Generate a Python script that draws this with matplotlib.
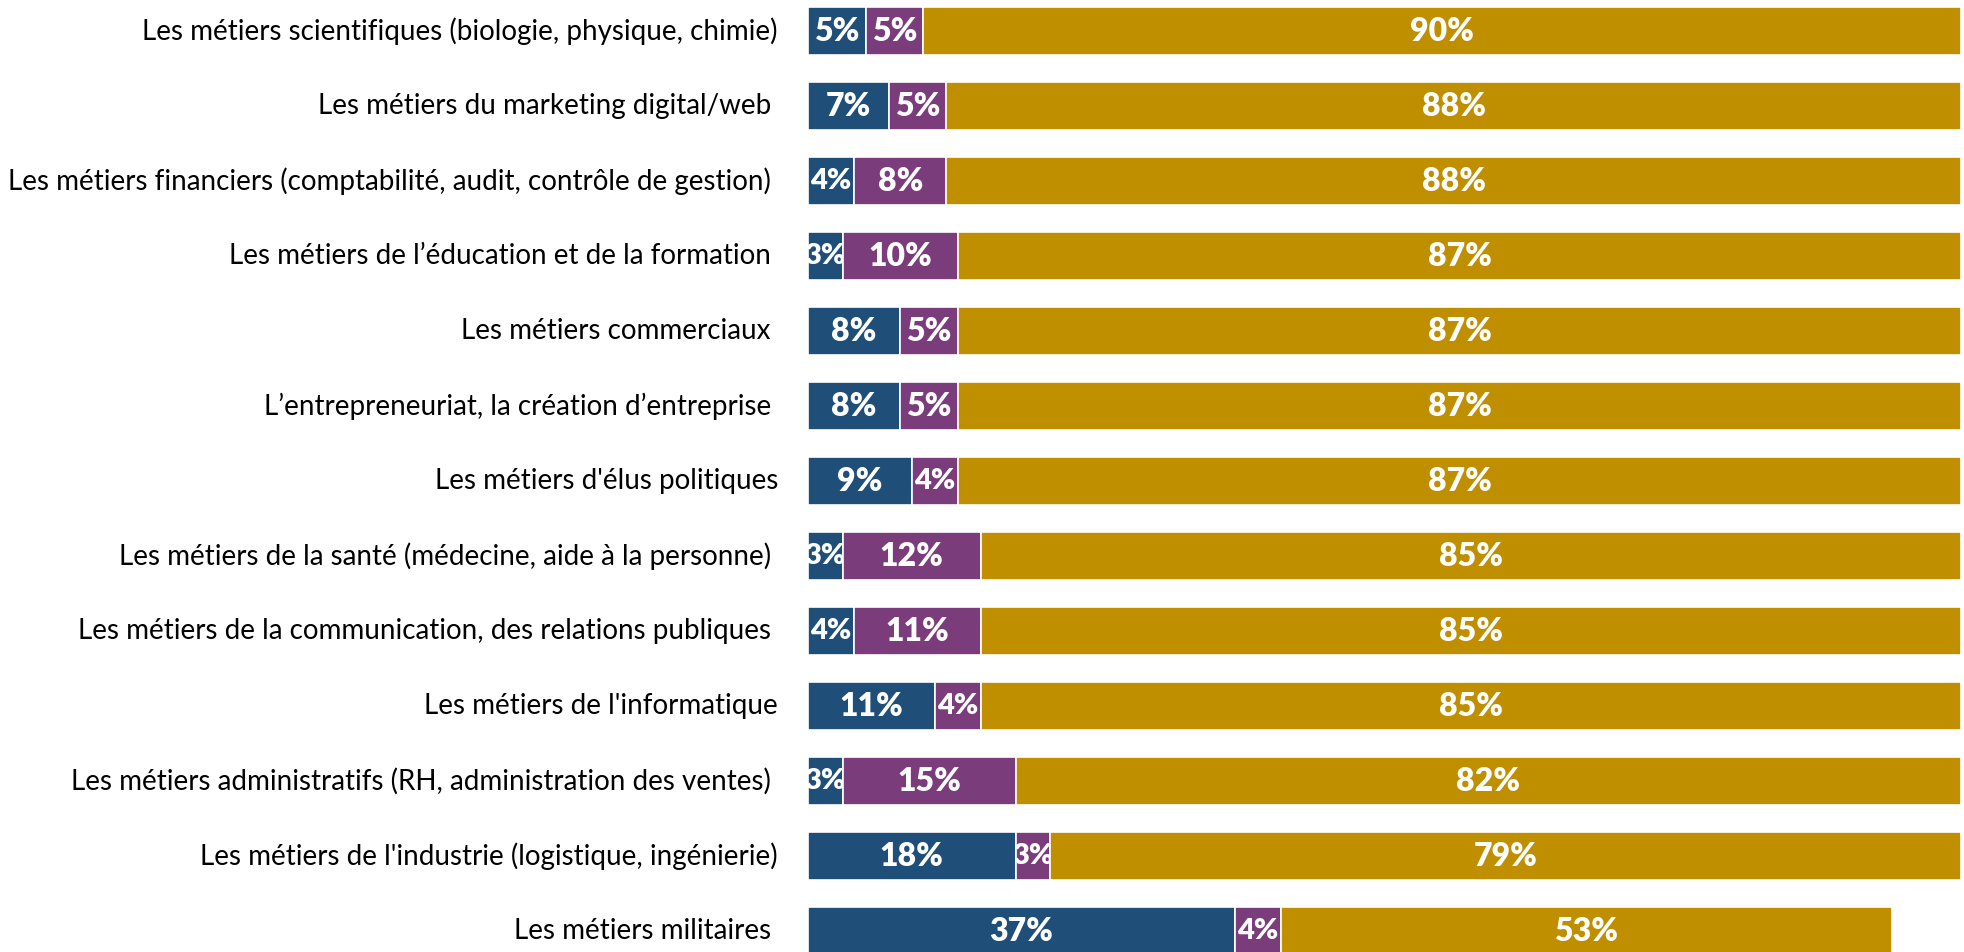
import matplotlib
matplotlib.use("Agg")
import matplotlib.pyplot as plt

categories = [
    "Les métiers scientifiques (biologie, physique, chimie)",
    "Les métiers du marketing digital/web ",
    "Les métiers financiers (comptabilité, audit, contrôle de gestion) ",
    "Les métiers de l’éducation et de la formation ",
    "Les métiers commerciaux ",
    "L’entrepreneuriat, la création d’entreprise ",
    "Les métiers d'élus politiques",
    "Les métiers de la santé (médecine, aide à la personne) ",
    "Les métiers de la communication, des relations publiques ",
    "Les métiers de l'informatique",
    "Les métiers administratifs (RH, administration des ventes) ",
    "Les métiers de l'industrie (logistique, ingénierie)",
    "Les métiers militaires ",
]
serie_bleue = [5, 7, 4, 3, 8, 8, 9, 3, 4, 11, 3, 18, 37]
serie_violette = [5, 5, 8, 10, 5, 5, 4, 12, 11, 4, 15, 3, 4]
serie_or = [90, 88, 88, 87, 87, 87, 87, 85, 85, 85, 82, 79, 53]

colors = ["#1F4E79", "#7B3C7C", "#BF8F00"]

W, H = 1965, 952
fig = plt.figure(figsize=(W / 100, H / 100), dpi=100)
left_px, right_px = 808, 1961
ax = fig.add_axes([left_px / W, 0, (right_px - left_px) / W, 1])

y = list(range(len(categories)))
row_h = 75.0
top_c = 31.0
ax.set_ylim((H - top_c) / row_h, -top_c / row_h)
ax.set_xlim(0, 100)

lefts = [0] * len(categories)
for vals, col in zip([serie_bleue, serie_violette, serie_or], colors):
    bars = ax.barh(y, vals, left=lefts, height=0.64, color=col,
                   edgecolor="white", linewidth=1.2)
    for bar, yi, v, l in zip(bars, y, vals, lefts):
        size = 23 if v >= 5 else 21
        t = ax.text(l + v / 2, yi, f"{v}%", ha="center", va="center",
                    color="white", fontsize=size, fontweight="heavy",
                    family="Lato", clip_on=True)
        t.set_clip_path(bar)
    lefts = [a + b for a, b in zip(lefts, vals)]

for yi, cat in zip(y, categories):
    fig.text(778 / W, 1 - (top_c + row_h * yi) / H, cat, ha="right",
             va="center", fontsize=20, family="Lato", color="black")

ax.axis("off")
fig.savefig("out.png", dpi=100)
